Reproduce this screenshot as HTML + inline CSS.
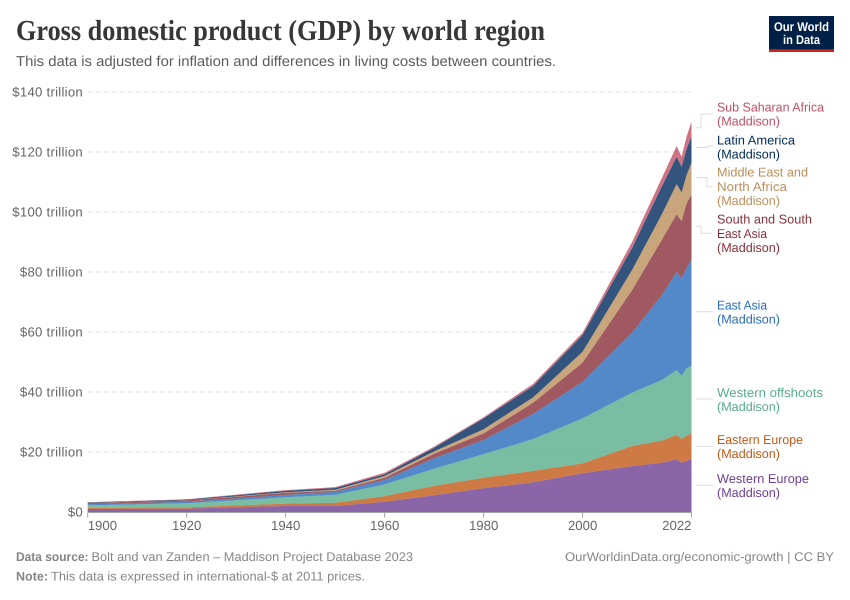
<!DOCTYPE html>
<html lang="en">
<head>
<meta charset="utf-8">
<title>Gross domestic product (GDP) by world region</title>
<style>
html,body{margin:0;padding:0;background:#fff;width:850px;height:600px;overflow:hidden}
svg{display:block}
text{font-family:"Liberation Sans",sans-serif;text-rendering:geometricPrecision}
.tick{font-size:13.2px;fill:#666}
.ytick{letter-spacing:.25px}
.lab{font-size:12.8px}
.foot{font-size:12.6px;fill:#858585}
</style>
</head>
<body>
<svg id="chart" width="850" height="600" viewBox="0 0 850 600" xmlns="http://www.w3.org/2000/svg">
  <rect x="0" y="0" width="850" height="600" fill="#fff"/>
  <text x="16" y="40" textLength="529" lengthAdjust="spacingAndGlyphs" style="font-family:'Liberation Serif',serif;font-weight:700;font-size:29px;fill:#373737">Gross domestic product (GDP) by world region</text>
  <text x="16" y="66" textLength="540" lengthAdjust="spacingAndGlyphs" style="font-size:14.4px;fill:#5b5b5b">This data is adjusted for inflation and differences in living costs between countries.</text>

  <g>
    <rect x="769" y="16" width="65" height="36" fill="#002147"/>
    <rect x="769" y="49.3" width="65" height="2.7" fill="#ce261e"/>
    <text x="801.5" y="31" text-anchor="middle" textLength="55" lengthAdjust="spacingAndGlyphs" style="font-size:12.6px;font-weight:700;fill:#fff">Our World</text>
    <text x="801.5" y="44" text-anchor="middle" textLength="37" lengthAdjust="spacingAndGlyphs" style="font-size:12.6px;font-weight:700;fill:#fff">in Data</text>
  </g>

  <g id="grid"></g>
  <g id="yticks"></g>
  <g id="areas"></g>
  <g id="xaxis"></g>

  <g fill="none" stroke="#dcdcdc" stroke-width="1">
    <polyline points="696,127.7 701,127.7 701,114 712.7,114"/>
    <polyline points="696,147.5 707,147.5 707,146 712.7,146"/>
    <polyline points="696,177.5 707,177.5 707,186.7 712.7,186.7"/>
    <polyline points="696,226.2 701,226.2 701,233.3 712.7,233.3"/>
    <polyline points="696,311.7 712.7,311.7"/>
    <polyline points="696,399 712.7,399"/>
    <polyline points="696,446.3 712.7,446.3"/>
    <polyline points="696,485.3 712.7,485.3"/>
  </g>

  <g class="lab" fill="#C15065">
    <text x="717" y="111.5" textLength="107" lengthAdjust="spacingAndGlyphs">Sub Saharan Africa</text>
    <text x="717" y="125.7" textLength="63" lengthAdjust="spacingAndGlyphs">(Maddison)</text>
  </g>
  <g class="lab" fill="#00295B">
    <text x="717" y="144.3" textLength="78" lengthAdjust="spacingAndGlyphs">Latin America</text>
    <text x="717" y="158.5" textLength="63" lengthAdjust="spacingAndGlyphs">(Maddison)</text>
  </g>
  <g class="lab" fill="#BC8E5A">
    <text x="717" y="176.7" textLength="91" lengthAdjust="spacingAndGlyphs">Middle East and</text>
    <text x="717" y="191" textLength="70" lengthAdjust="spacingAndGlyphs">North Africa</text>
    <text x="717" y="205.2" textLength="63" lengthAdjust="spacingAndGlyphs">(Maddison)</text>
  </g>
  <g class="lab" fill="#883039">
    <text x="717" y="223.7" textLength="95" lengthAdjust="spacingAndGlyphs">South and South</text>
    <text x="717" y="238" textLength="50" lengthAdjust="spacingAndGlyphs">East Asia</text>
    <text x="717" y="252.2" textLength="63" lengthAdjust="spacingAndGlyphs">(Maddison)</text>
  </g>
  <g class="lab" fill="#286BBB">
    <text x="717" y="309.5" textLength="50" lengthAdjust="spacingAndGlyphs">East Asia</text>
    <text x="717" y="323.7" textLength="63" lengthAdjust="spacingAndGlyphs">(Maddison)</text>
  </g>
  <g class="lab" fill="#58AC8C">
    <text x="717" y="397" textLength="106" lengthAdjust="spacingAndGlyphs">Western offshoots</text>
    <text x="717" y="411.2" textLength="63" lengthAdjust="spacingAndGlyphs">(Maddison)</text>
  </g>
  <g class="lab" fill="#C05917">
    <text x="717" y="444" textLength="86" lengthAdjust="spacingAndGlyphs">Eastern Europe</text>
    <text x="717" y="458.2" textLength="63" lengthAdjust="spacingAndGlyphs">(Maddison)</text>
  </g>
  <g class="lab" fill="#6D3E91">
    <text x="717" y="483" textLength="92" lengthAdjust="spacingAndGlyphs">Western Europe</text>
    <text x="717" y="497.2" textLength="63" lengthAdjust="spacingAndGlyphs">(Maddison)</text>
  </g>

  <g class="foot">
    <text x="16" y="561" textLength="72.5" lengthAdjust="spacingAndGlyphs" style="font-weight:700">Data source:</text>
    <text x="91.5" y="561" textLength="321.5" lengthAdjust="spacingAndGlyphs">Bolt and van Zanden – Maddison Project Database 2023</text>
    <text x="16" y="580.7" textLength="32" lengthAdjust="spacingAndGlyphs" style="font-weight:700">Note:</text>
    <text x="51" y="580.7" textLength="314" lengthAdjust="spacingAndGlyphs">This data is expressed in international-$ at 2011 prices.</text>
    <text x="565" y="561" textLength="269" lengthAdjust="spacingAndGlyphs">OurWorldinData.org/economic-growth | CC BY</text>
  </g>
</svg>

<script>
const years = [1900,1920,1930,1940,1950,1960,1970,1980,1990,2000,2010,2016,2019,2020,2021,2022];
const westernEurope = [1.0,1.1,1.6,2.0,2.0,3.4,5.6,7.9,9.9,12.9,15.3,16.4,17.6,16.4,17.0,17.7];
const easternEurope = [0.4,0.45,0.6,0.8,1.1,1.9,3.1,3.5,3.8,3.3,6.7,7.4,8.1,7.9,8.4,8.5];
const westernOffshoots = [0.8,1.35,1.7,2.1,2.6,3.9,5.7,7.9,10.6,15.0,17.8,20.2,21.6,21.1,22.5,22.5];
const eastAsia = [0.4,0.5,0.6,0.8,1.0,1.5,3.5,4.7,8.4,12.2,20.0,28.3,32.7,32.5,33.4,35.5];
const southEastAsia = [0.4,0.5,0.6,0.7,0.4,0.7,1.5,2.2,3.7,6.4,14.2,18.4,19.3,19.1,21.6,21.5];
const middleEastNorthAfrica = [0.05,0.05,0.1,0.2,0.3,0.6,0.8,1.4,1.8,3.6,6.7,8.5,10.0,9.5,9.4,10.7];
const latinAmerica = [0.15,0.2,0.4,0.5,0.6,0.6,1.2,3.6,3.8,5.6,7.3,9.3,9.1,8.6,8.7,8.8];
const subSaharanAfrica = [0.1,0.1,0.2,0.2,0.3,0.5,0.4,0.4,0.7,0.8,2.0,2.8,3.6,3.3,4.1,4.9];
const yTickValues = [0,20,40,60,80,100,120,140];
const yTickLabels = ["$0","$20 trillion","$40 trillion","$60 trillion","$80 trillion","$100 trillion","$120 trillion","$140 trillion"];
const xTickValues = [1900,1920,1940,1960,1980,2000,2022];
const xTickLabels = ["1900","1920","1940","1960","1980","2000","2022"];
const seriesNames = ["western-europe","eastern-europe","western-offshoots","east-asia","south-east-asia","middle-east-north-africa","latin-america","sub-saharan-africa"];
const seriesColors = ["#6D3E91","#C05917","#58AC8C","#286BBB","#883039","#BC8E5A","#00295B","#C15065"];
const seriesValues = [westernEurope,easternEurope,westernOffshoots,eastAsia,southEastAsia,middleEastNorthAfrica,latinAmerica,subSaharanAfrica];

const NS = "http://www.w3.org/2000/svg";
function xScale(year){ return 87.7 + (year - 1900) * (691.5 - 87.7) / (2022 - 1900); }
function yScale(v){ return 512 - v * (512 - 92) / 140; }
function make(tag, attrs, parent){
  const el = document.createElementNS(NS, tag);
  for (const k in attrs) el.setAttribute(k, attrs[k]);
  parent.appendChild(el);
  return el;
}

const gridG = document.getElementById("grid");
const yG = document.getElementById("yticks");
yTickValues.forEach(function(v, i){
  if (v !== 0) {
    const line = make("line", {x1:87.7, x2:691.5, y1:yScale(v), y2:yScale(v), stroke:"#e0e0e0", "stroke-width":1, "stroke-dasharray":"5,3"}, gridG);
    
    
  }
  const t = make("text", {x:83, y:yScale(v) + 4.6, "text-anchor":"end", class:"tick ytick"}, yG);
  
  
  t.textContent = yTickLabels[i];
});

const areasG = document.getElementById("areas");
let lower = years.map(function(){ return 0; });
seriesValues.forEach(function(vals, s){
  const upper = vals.map(function(v, i){ return lower[i] + v; });
  const top = years.map(function(y, i){ return xScale(y).toFixed(2) + "," + yScale(upper[i]).toFixed(2); });
  const bottom = years.map(function(y, i){ return xScale(y).toFixed(2) + "," + yScale(lower[i]).toFixed(2); }).reverse();
  const area = make("polygon", {points: top.concat(bottom).join(" "), fill: seriesColors[s], "fill-opacity":0.8, stroke:"none"}, areasG);
  
  
  lower = upper;
});

const xG = document.getElementById("xaxis");
const axisLine = make("line", {x1:87.7, x2:691.5, y1:512.5, y2:512.5, stroke:"#a1a1a1", "stroke-width":1}, xG);


xTickValues.forEach(function(yr, i){
  const px = xScale(yr);
  const tick = make("line", {x1:px, x2:px, y1:512.5, y2:517.5, stroke:"#a1a1a1", "stroke-width":1}, xG);
  
  
  const anchor = i === 0 ? "start" : (i === xTickValues.length - 1 ? "end" : "middle");
  const t = make("text", {x:px, y:530, "text-anchor":anchor, class:"tick"}, xG);
  
  
  t.textContent = xTickLabels[i];
});
</script>
</body>
</html>
